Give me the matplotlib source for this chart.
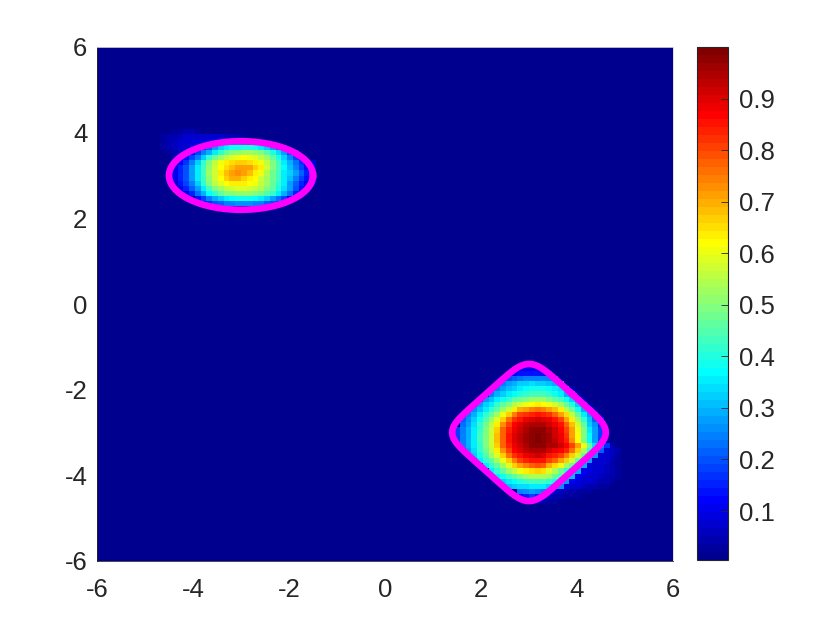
import numpy as np
import matplotlib
matplotlib.use("Agg")
import matplotlib.pyplot as plt
from matplotlib.colors import LinearSegmentedColormap

plt.rcParams['font.family'] = ['Liberation Sans', 'DejaVu Sans']
plt.rcParams['axes.unicode_minus'] = False

# heat values (percent)
UPPER_FIRST_ROW = 83
UPPER_FIRST_COLS = [12, 11, 11, 11, 12, 13, 13, 13, 13, 13, 13, 14, 15, 17, 18]
UPPER_ROWS = [
    [2, 3, 3, 4, 4, 3, 2],
    [3, 4, 5, 6, 7, 8, 8, 8, 8, 8, 7, 6, 5, 4, 3, 2],
    [3, 5, 6, 7, 8, 9, 9, 9, 10, 10, 15, 20, 24, 26, 24, 20, 15],
    [3, 5, 6, 7, 8, 9, 10, 16, 22, 28, 33, 36, 38, 39, 40, 40, 39, 36, 33, 28, 22, 16],
    [3, 5, 6, 8, 14, 18, 24, 30, 36, 42, 46, 49, 51, 52, 52, 51, 49, 45, 40, 34, 27, 20, 14],
    [4, 6, 13, 18, 25, 33, 41, 48, 53, 56, 59, 61, 62, 61, 59, 56, 52, 47, 40, 32, 24, 18, 12],
    [8, 12, 17, 24, 32, 41, 49, 55, 60, 63, 65, 66, 66, 65, 63, 60, 55, 49, 43, 35, 29, 23, 17, 12, 8],
    [10, 15, 20, 27, 35, 44, 51, 57, 62, 65, 68, 71, 72, 71, 67, 63, 57, 50, 45, 37, 31, 25, 19, 14, 9],
    [11, 16, 20, 27, 35, 44, 52, 57, 63, 68, 72, 73, 72, 68, 64, 60, 54, 48, 43, 36, 32, 27, 21, 15, 10],
    [10, 15, 20, 27, 35, 44, 51, 57, 62, 66, 70, 70, 67, 64, 62, 57, 52, 48, 43, 36, 31, 25, 19, 14, 9],
    [8, 13, 18, 25, 33, 41, 49, 55, 59, 62, 64, 64, 64, 62, 60, 56, 52, 47, 41, 35, 28, 21, 16, 11, 7],
    [10, 15, 21, 28, 36, 43, 49, 53, 56, 58, 59, 59, 58, 56, 54, 50, 46, 40, 34, 27, 20, 14, 10],
    [11, 16, 23, 30, 37, 42, 46, 49, 50, 51, 51, 51, 50, 48, 45, 41, 36, 30, 23, 16, 11],
    [13, 19, 25, 30, 33, 35, 37, 38, 38, 38, 37, 35, 32, 28, 23, 18, 12],
    [13, 17, 20, 22, 24, 25, 26, 26, 26, 25, 24, 22, 20, 17, 13],
]

LOWER_FIRST_ROW = 37
LOWER_FIRST_COLS = [73, 72, 71, 70, 69, 68, 67, 66, 65, 64, 63, 63, 62, 62, 62, 63, 64, 65, 66,
                    67, 68, 69, 70, 71, 73, 73, 75]
LOWER_ROWS = [
    [10, 10, 11, 11, 11],
    [12, 13, 13, 14, 14, 14, 13],
    [20, 22, 23, 24, 24, 25, 24, 24, 23],
    [25, 28, 30, 32, 33, 34, 33, 32, 31, 29, 27],
    [25, 28, 31, 33, 35, 37, 38, 38, 38, 37, 36, 34, 31, 4, 1],
    [25, 29, 32, 35, 37, 40, 42, 43, 44, 43, 42, 39, 35, 30, 24, 5, 2],
    [27, 31, 35, 39, 42, 46, 48, 50, 52, 52, 52, 50, 47, 43, 38, 32, 25, 5, 2],
    [27, 32, 36, 41, 46, 50, 54, 57, 60, 62, 63, 62, 60, 57, 53, 47, 40, 33, 25, 5, 2],
    [26, 31, 36, 42, 47, 52, 58, 64, 69, 72, 75, 76, 75, 72, 68, 63, 56, 48, 38, 30, 22, 4, 1],
    [24, 29, 35, 41, 47, 53, 60, 67, 74, 80, 82, 84, 85, 84, 82, 78, 72, 65, 56, 46, 35, 27, 18, 3],
    [21, 26, 32, 38, 45, 52, 59, 67, 76, 82, 86, 89, 90, 91, 90, 88, 85, 80, 72, 63, 52, 41, 31, 22, 15],
    [23, 28, 34, 41, 48, 55, 64, 73, 81, 87, 90, 93, 94, 95, 94, 92, 89, 85, 77, 68, 58, 46, 33, 26, 17],
    [18, 24, 30, 36, 42, 49, 57, 67, 77, 84, 89, 92, 95, 97, 98, 97, 95, 91, 87, 81, 71, 61, 49, 36, 27, 18],
    [18, 24, 30, 36, 43, 50, 58, 68, 78, 85, 90, 93, 96, 98, 100, 98, 96, 92, 88, 82, 72, 62, 50, 37, 28, 18],
    [18, 24, 30, 36, 43, 50, 58, 68, 78, 85, 90, 93, 96, 98, 99, 97, 96, 93, 89, 83, 73, 62, 50, 37, 28, 18, 3],
    [24, 30, 36, 42, 49, 57, 67, 77, 84, 89, 92, 95, 97, 98, 97, 95, 94, 91, 87, 80, 71, 60, 47, 34, 26, 17, 5, 2],
    [28, 34, 41, 48, 55, 64, 73, 81, 87, 90, 93, 94, 95, 94, 91, 89, 87, 83, 76, 66, 54, 42, 31, 22, 7, 6, 4, 2],
    [32, 38, 45, 52, 59, 67, 76, 82, 86, 89, 90, 91, 90, 86, 84, 81, 75, 67, 57, 46, 35, 27, 8, 7, 6, 3, 1],
    [35, 41, 47, 53, 60, 67, 74, 80, 83, 85, 86, 85, 80, 77, 72, 66, 57, 47, 36, 28, 8, 8, 7, 5, 3, 2, 1],
    [36, 42, 47, 53, 59, 66, 72, 75, 78, 79, 78, 70, 65, 60, 53, 46, 38, 30, 9, 8, 7, 6, 5, 3, 2, 1],
    [36, 41, 47, 52, 56, 60, 63, 65, 66, 65, 59, 54, 48, 42, 36, 29, 10, 9, 8, 7, 6, 4, 3, 2, 1],
    [35, 39, 43, 47, 50, 52, 54, 54, 54, 52, 47, 43, 38, 31, 10, 9, 8, 7, 6, 5, 4, 3, 2, 1],
    [32, 35, 37, 40, 42, 43, 44, 43, 42, 38, 33, 28, 10, 9, 8, 7, 6, 5, 4, 3, 2, 2, 1, 1],
    [31, 33, 34, 34, 35, 35, 35, 33, 30, 26, 9, 8, 7, 6, 5, 4, 3, 3, 2, 2, 1, 1],
    [24, 26, 27, 26, 25, 10, 8, 6, 5, 4, 3, 3, 3, 2, 2, 1, 1, 1],
    [14, 16, 18, 16, 14, 6, 5, 4, 3, 3, 3, 2, 2, 1, 1, 1, 1],
    [5, 5, 4, 3, 3, 2, 2, 2, 1, 1, 1, 1],
]

AXIS_TICKS = [-6, -4, -2, 0, 2, 4, 6]
CBAR_TICKS = [0.1, 0.2, 0.3, 0.4, 0.5, 0.6, 0.7, 0.8, 0.9]
ELLIPSE = dict(cx=-3.0, cy=3.0, a=1.5, b=0.8)
DIAMOND = dict(cx=3.0, cy=-3.0, r=1.27, p=6.0)

GRID_N = 100
Z = np.zeros((GRID_N, GRID_N))
for i, (row, col) in enumerate(zip(UPPER_ROWS, UPPER_FIRST_COLS)):
    Z[UPPER_FIRST_ROW - i, col:col + len(row)] = np.array(row) / 100
for i, (row, col) in enumerate(zip(LOWER_ROWS, LOWER_FIRST_COLS)):
    Z[LOWER_FIRST_ROW - i, col:col + len(row)] = np.array(row) / 100

cmap = LinearSegmentedColormap.from_list(
    'matlab_jet',
    [(0, (0, 0, .5625)), (7 / 63, (0, 0, 1)), (23 / 63, (0, 1, 1)),
     (39 / 63, (1, 1, 0)), (55 / 63, (1, 0, 0)), (1, (.5, 0, 0))], N=64)

W, H = 840, 630
fig = plt.figure(figsize=(W / 100, H / 100), dpi=100)
ax = fig.add_axes([97 / W, 1 - 561 / H, 576 / W, 514 / H])
edges = np.linspace(-6, 6, GRID_N + 1)
mesh = ax.pcolormesh(edges, edges, Z, cmap=cmap, vmin=0.005, vmax=1.0, shading='flat')

t = np.linspace(0, 2 * np.pi, 400)
ax.plot(ELLIPSE['cx'] + ELLIPSE['a'] * np.cos(t), ELLIPSE['cy'] + ELLIPSE['b'] * np.sin(t),
        color='#ff00ff', lw=4.8)
e = 2 / DIAMOND['p']
u = DIAMOND['r'] * np.sign(np.cos(t)) * np.abs(np.cos(t)) ** e
v = DIAMOND['r'] * np.sign(np.sin(t)) * np.abs(np.sin(t)) ** e
ax.plot(DIAMOND['cx'] + (u + v) / np.sqrt(2), DIAMOND['cy'] + (u - v) / np.sqrt(2),
        color='#ff00ff', lw=4.8)

ax.set_xlim(-6, 6)
ax.set_ylim(-6, 6)
ax.set_xticks(AXIS_TICKS)
ax.set_yticks(AXIS_TICKS)
ax.tick_params(length=0, labelsize=18.5, labelcolor='#262626')
ax.tick_params(axis='x', pad=12.5)
ax.tick_params(axis='y', pad=7)
ax.set_xticks([6], minor=True)
ax.set_yticks([6], minor=True)
ax.tick_params(which='minor', direction='in', length=5.5, width=1.2, color='#262626', labelbottom=False, labelleft=False)
for name in ['left', 'bottom']:
    ax.spines[name].set_color('#262626')
    ax.spines[name].set_linewidth(0.6)
for name in ['top', 'right']:
    ax.spines[name].set_color('#d9d9d9')
    ax.spines[name].set_linewidth(0.6)

cax = fig.add_axes([697 / W, 1 - 560 / H, 31 / W, 513 / H])
cb = fig.colorbar(mesh, cax=cax)
cb.set_ticks(CBAR_TICKS)
cb.ax.tick_params(direction='in', length=5, width=0.6, color='#262626',
                  labelsize=18.5, labelcolor='#262626', pad=8)
cb.outline.set_edgecolor('#262626')
cb.outline.set_linewidth(0.8)

fig.savefig('out.png', dpi=100)
